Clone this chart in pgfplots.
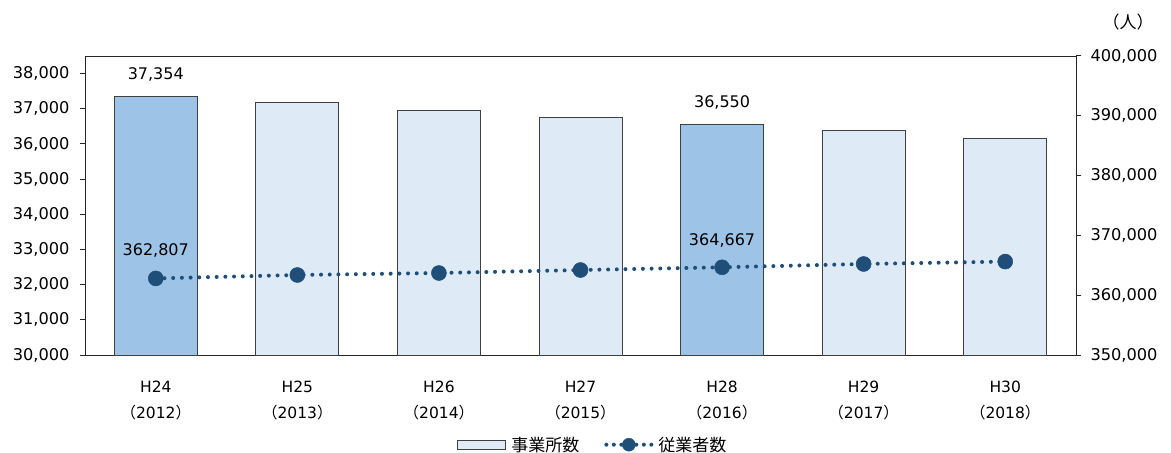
\documentclass[border=0pt]{standalone}
\usepackage{fontspec}
\setmainfont{DejaVu Sans}
\newfontfamily\jp{Noto Sans CJK JP}
\usepackage{pgfplots}
\pgfplotsset{compat=1.18}
\definecolor{barD}{HTML}{9DC3E6}
\definecolor{barL}{HTML}{DEEBF7}
\definecolor{lineC}{HTML}{1F4E79}
\begin{document}
\begin{tikzpicture}
\useasboundingbox (0,0) rectangle (1171bp,453bp);
\begin{axis}[
  at={(85bp,98bp)}, anchor=south west,
  scale only axis, width=991bp, height=299bp,
  xmin=-0.5, xmax=6.5, ymin=30000, ymax=38500,
  ytick={30000,31000,...,38000},
  ytick pos=left,
  tick align=outside, major tick length=5bp,
  xtick={0,...,6},
  xticklabels={{H24\\{\jp（}2012{\jp）}},{H25\\{\jp（}2013{\jp）}},{H26\\{\jp（}2014{\jp）}},{H27\\{\jp（}2015{\jp）}},{H28\\{\jp（}2016{\jp）}},{H29\\{\jp（}2017{\jp）}},{H30\\{\jp（}2018{\jp）}}},
  xtick style={draw=none},
  xticklabel style={align=center, font=\fontsize{15.5bp}{26bp}\selectfont, yshift=-17bp},
  yticklabel style={font=\fontsize{16.2bp}{18bp}\selectfont, xshift=-7bp},
  scaled y ticks=false,
  /pgf/number format/assume math mode=true,
  /pgf/number format/.cd, fixed, 1000 sep={,}, precision=0, /pgfplots/.cd,
  axis line style={line width=1bp, black!85},
  tick style={line width=1bp, black!85},
  clip=false,
]
\addplot[ybar, bar shift=0pt, bar width=0.586, fill=barD, draw=black!75, line width=0.9bp]
  coordinates {(0,37354) (4,36550)};
\addplot[ybar, bar shift=0pt, bar width=0.586, fill=barL, draw=black!75, line width=0.9bp]
  coordinates {(1,37170) (2,36950) (3,36750) (5,36370) (6,36150)};
\node[font=\fontsize{16bp}{18bp}\selectfont] at (axis cs:0,37354) [yshift=22bp] {37,354};
\node[font=\fontsize{16bp}{18bp}\selectfont] at (axis cs:4,36550) [yshift=22bp] {36,550};
\end{axis}
\begin{axis}[
  at={(85bp,98bp)}, anchor=south west,
  scale only axis, width=991bp, height=299bp,
  xmin=-0.5, xmax=6.5, ymin=350000, ymax=400000,
  ytick={350000,360000,...,400000},
  axis x line=none, axis y line*=right,
  ytick pos=right,
  tick align=outside, major tick length=5bp,
  yticklabel style={font=\fontsize{16.2bp}{18bp}\selectfont, xshift=6bp},
  /pgf/number format/assume math mode=true,
  /pgf/number format/.cd, fixed, 1000 sep={,}, precision=0, /pgfplots/.cd,
  scaled y ticks=false,
  axis line style={line width=1bp, black!85},
  tick style={line width=1bp, black!85},
  clip=false,
  legend style={at={(0.514,-0.30)}, anchor=center, draw=none, fill=none,
    legend columns=2, font=\jp\fontsize{17bp}{20bp}\selectfont,
    nodes={inner xsep=5bp},
    /tikz/every even column/.append style={column sep=20bp}},
]
\addlegendimage{legend image code/.code={\draw[fill=barL, draw=black!75, line width=0.9bp] (0bp,-4.5bp) rectangle (48bp,4.5bp);}}
\addlegendentry{事業所数}
\addlegendimage{legend image code/.code={\draw[lineC, line width=4bp, line cap=round, dash pattern=on 0bp off 7.5bp] (0bp,0bp) -- (45bp,0bp); \fill[lineC] (22.5bp,0bp) circle (6.5bp);}}
\addlegendentry{従業者数}
\addplot[lineC, line width=4bp, line cap=round, dash pattern=on 0bp off 8.7bp,
  mark=*, mark size=7.5bp, mark options={solid, fill=lineC, draw=lineC, line width=0.5bp}]
  coordinates {(0,362807) (1,363380) (2,363710) (3,364210) (4,364667) (5,365220) (6,365620)};
\node[font=\fontsize{16bp}{18bp}\selectfont] at (axis cs:0,362807) [yshift=28bp] {362,807};
\node[font=\fontsize{16bp}{18bp}\selectfont] at (axis cs:4,364667) [yshift=27bp] {364,667};
\node[font=\jp\fontsize{17bp}{20bp}\selectfont] at (rel axis cs:1,1) [xshift=52bp, yshift=34bp] {（人）};
\end{axis}
\end{tikzpicture}
\end{document}
